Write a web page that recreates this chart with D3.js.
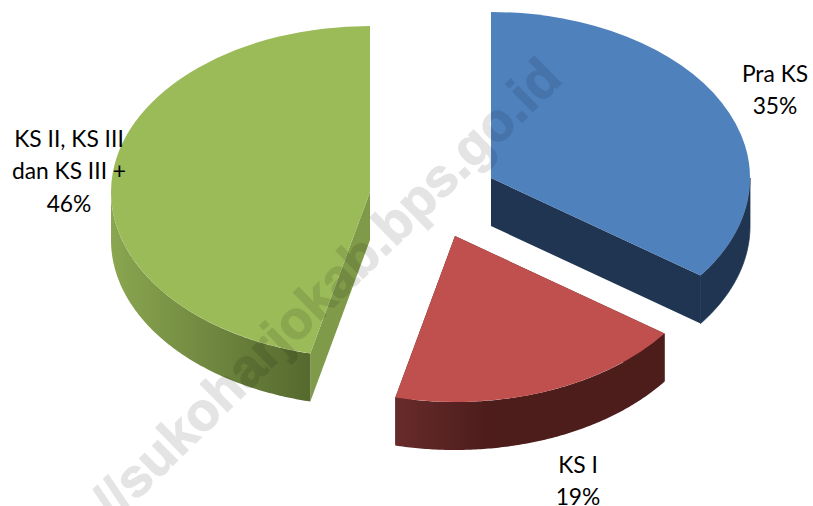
<!DOCTYPE html>
<html><head><meta charset="utf-8">
<script src="https://cdn.jsdelivr.net/npm/d3@7/dist/d3.min.js"></script>
<style>html,body{margin:0;padding:0;background:#fff}svg{display:block}</style>
</head><body><svg id="c" width="813" height="506"></svg>
<script>
const categories = ["Pra KS", "KS I", "KS II, KS III dan KS III +"];
const values = [35.0, 18.7, 46.3];
const topColors = ["#4F81BD", "#C0504D", "#9BBB59"];
const faceColors = ["#1F3552", "#4F1F1E", "#7F9A48"];
const sideStops = [["#1F3552", "#1F3552"], ["#682B2B", "#4D1D1C"], ["#8AA650", "#55692E"]];
const centres = [[491, 178], [455, 236], [370, 192]];
const labelLines = [["Pra KS", "35%"], ["KS I", "19%"], ["KS II, KS III", "dan KS III +", "46%"]];
const labelPos = [[775, 82], [578, 473], [69, 147]];
const watermark = "http://sukoharjokab.bps.go.id";

const rx = 259, ry = 166, depth = 48, lineH = 32.3;
const svg = d3.select("#c");
const defs = svg.append("defs");
const pie = d3.pie().sort(null).value(d => d)(values);
const px = (c, a) => c[0] + rx * Math.sin(a);
const py = (c, a) => c[1] - ry * Math.cos(a);
const poly = d3.line();

pie.forEach((p, i) => {
  const c = centres[i];
  const a0 = p.startAngle, a1 = p.endAngle;
  // Radial cut faces
  [a0, a1].forEach(a => {
    svg.append("path").attr("fill", faceColors[i]).attr("d", poly([
      c, [px(c, a), py(c, a)], [px(c, a), py(c, a) + depth], [c[0], c[1] + depth]
    ]) + "Z");
  });
  // Outer wall
  const vs = Math.max(a0, Math.PI / 2), ve = Math.min(a1, 3 * Math.PI / 2);
  if (ve > vs) {
    const angs = d3.range(0, 121).map(k => vs + (ve - vs) * k / 120);
    const upper = angs.map(a => [px(c, a), py(c, a)]);
    const lower = angs.slice().reverse().map(a => [px(c, a), py(c, a) + depth]);
    const xs = upper.map(d => d[0]);
    const gid = "side" + i;
    const lg = defs.append("linearGradient").attr("id", gid)
      .attr("gradientUnits", "userSpaceOnUse")
      .attr("x1", d3.min(xs)).attr("x2", i === 1 ? d3.min(xs) + 90 : d3.max(xs)).attr("y1", 0).attr("y2", 0);
    lg.append("stop").attr("offset", 0).attr("stop-color", sideStops[i][0]);
    lg.append("stop").attr("offset", 1).attr("stop-color", sideStops[i][1]);
    const wall = svg.append("path").attr("fill", `url(#${gid})`).attr("d", poly(upper.concat(lower)) + "Z");
    if (i === 0) wall.attr("stroke", faceColors[0]).attr("stroke-width", 0.8);
  }
  // Top face
  svg.append("path").attr("fill", topColors[i])
    .attr("transform", `translate(${c[0]},${c[1]}) scale(1,${ry / rx})`)
    .attr("d", d3.arc().innerRadius(0).outerRadius(rx)(p));
});

labelLines.forEach((lines, i) => {
  const t = svg.append("text").attr("text-anchor", "middle")
    .attr("font-family", "Lato, Carlito, sans-serif").attr("font-size", 22.8).attr("fill", "#000");
  lines.forEach((s, k) => t.append("tspan").attr("x", labelPos[i][0]).attr("y", labelPos[i][1] + k * lineH).text(s));
});

svg.append("text").text(watermark)
  .attr("transform", "translate(564,81) rotate(-44.5)")
  .attr("text-anchor", "end")
  .attr("font-family", "'Liberation Sans', Arial, sans-serif")
  .attr("font-weight", "bold").attr("font-size", 53.5)
  .attr("fill", "#000").attr("stroke", "#000").attr("stroke-width", 1.2)
  .attr("opacity", 0.1);
</script></body></html>
